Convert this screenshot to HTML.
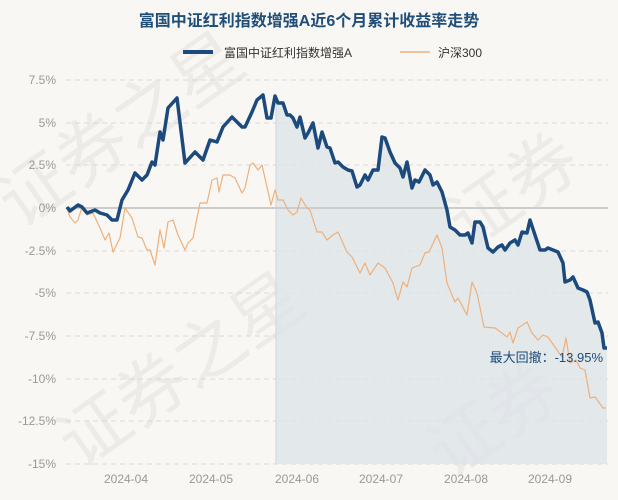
<!DOCTYPE html>
<html><head><meta charset="utf-8"><style>
body{margin:0;background:#f9f7f4;}
svg{display:block;font-family:"Liberation Sans","Noto Sans CJK SC",sans-serif;}
</style></head><body>
<svg width="618" height="500" viewBox="0 0 618 500">
<rect width="618" height="500" fill="#f9f7f4"/>
<g fill="#e9e6e2" font-size="70" font-family="Noto Sans CJK SC, sans-serif" opacity="0.7">
<text transform="translate(20,230) rotate(-35)">证券之星</text>
<text transform="translate(80,470) rotate(-35)">证券之星</text>
<text transform="translate(470,250) rotate(-35)">证券</text>
<text transform="translate(450,480) rotate(-35)">证券</text>
</g>
<text x="309" y="26" text-anchor="middle" font-size="16" font-weight="bold" fill="#1f4e79">富国中证红利指数增强A近6个月累计收益率走势</text>
<line x1="183" y1="52" x2="213" y2="52" stroke="#1c4a7c" stroke-width="4"/>
<text x="224" y="57" font-size="12" fill="#333">富国中证红利指数增强A</text>
<line x1="400" y1="52" x2="430" y2="52" stroke="#efb07a" stroke-width="1.5"/>
<text x="438" y="57" font-size="12" fill="#333">沪深300</text>
<g stroke="#d9d9d9" stroke-dasharray="5,4" stroke-width="1">
<line x1="66" y1="80" x2="608" y2="80"/><line x1="66" y1="123" x2="608" y2="123"/><line x1="66" y1="165" x2="608" y2="165"/>
<line x1="66" y1="251" x2="608" y2="251"/><line x1="66" y1="293" x2="608" y2="293"/><line x1="66" y1="336" x2="608" y2="336"/>
<line x1="66" y1="379" x2="608" y2="379"/><line x1="66" y1="421" x2="608" y2="421"/><line x1="66" y1="464" x2="608" y2="464"/>
</g>
<g font-size="12" fill="#999" text-anchor="end">
<text x="56" y="84">7.5%</text><text x="56" y="127">5%</text><text x="56" y="169">2.5%</text><text x="56" y="212">0%</text>
<text x="56" y="255">-2.5%</text><text x="56" y="297">-5%</text><text x="56" y="340">-7.5%</text><text x="56" y="383">-10%</text>
<text x="56" y="425">-12.5%</text><text x="56" y="468">-15%</text>
</g>
<g font-size="12" fill="#999" text-anchor="middle">
<text x="126" y="483">2024-04</text><text x="211" y="483">2024-05</text><text x="297" y="483">2024-06</text>
<text x="381" y="483">2024-07</text><text x="466" y="483">2024-08</text><text x="550" y="483">2024-09</text>
</g>
<polygon fill="#dde3e8" opacity="0.8" points="276,464 276,96 278,103 283,103 287,115 290,115 293,118 297,127 300,117 305,138 308,133 313,123 318,148 322,132 327,147 330,148 335,163 338,162 343,167 348,170 352,171 357,187 360,185 365,175 368,180 373,170 378,170 382,137 385,138 390,152 395,163 400,168 403,177 407,162 412,188 415,180 419,182 425,170 430,175 433,185 437,182 442,192 447,210 450,227 455,230 460,235 465,235 468,233 472,243 475,222 480,222 483,227 488,248 493,252 498,247 502,245 505,250 510,243 515,240 518,245 522,232 527,233 530,220 535,235 540,250 545,250 548,248 553,250 558,252 563,263 565,282 570,280 573,277 578,288 583,290 587,292 590,300 595,323 598,322 602,333 604,348 607,348 607,464"/>
<line x1="276" y1="96" x2="276" y2="464" stroke="#d0d6dc" stroke-width="1"/>
<line x1="66" y1="208" x2="608" y2="208" stroke="#cccccc" stroke-width="2"/>
<polyline fill="none" stroke="#efb07a" stroke-width="1.2" stroke-linejoin="round" points="67,208 70,217 75,223 78,220 82,207 87,215 93,213 100,228 105,240 109,233 113,252 120,238 125,208 132,218 138,237 142,238 147,250 150,250 155,265 160,230 164,248 168,222 173,220 178,235 185,250 188,243 193,238 200,203 207,203 212,180 217,178 219,192 223,175 230,175 235,178 242,193 245,188 250,165 253,163 258,170 262,165 271,205 275,190 278,200 283,200 288,210 293,215 297,212 301,198 307,208 310,210 317,232 322,232 327,240 333,235 338,232 347,252 352,257 360,273 365,263 370,275 378,263 385,268 393,283 398,300 403,282 407,287 412,268 420,265 425,253 429,252 437,235 442,248 447,283 455,302 458,298 467,315 472,282 477,293 484,327 495,328 502,333 507,337 510,332 513,343 518,328 527,322 532,333 538,340 543,335 548,337 557,350 562,357 566,338 570,363 576,360 580,368 585,370 590,398 595,397 603,408 606,408"/>
<polyline fill="none" stroke="#1c4a7c" stroke-width="3.5" stroke-linejoin="round" points="67,207 70,211 78,205 82,207 87,213 95,210 100,213 107,215 112,220 117,220 122,200 128,190 135,173 142,180 147,175 152,162 155,165 160,132 163,140 168,108 177,98 185,163 195,152 203,160 210,140 217,142 223,127 232,117 242,127 245,127 252,112 257,100 263,95 267,118 271,118 275,96 278,103 283,103 287,115 290,115 293,118 297,127 300,117 305,138 308,133 313,123 318,148 322,132 327,147 330,148 335,163 338,162 343,167 348,170 352,171 357,187 360,185 365,175 368,180 373,170 378,170 382,137 385,138 390,152 395,163 400,168 403,177 407,162 412,188 415,180 419,182 425,170 430,175 433,185 437,182 442,192 447,210 450,227 455,230 460,235 465,235 468,233 472,243 475,222 480,222 483,227 488,248 493,252 498,247 502,245 505,250 510,243 515,240 518,245 522,232 527,233 530,220 535,235 540,250 545,250 548,248 553,250 558,252 563,263 565,282 570,280 573,277 578,288 583,290 587,292 590,300 595,323 598,322 602,333 604,348 607,348"/>
<text x="603" y="362" text-anchor="end" font-size="13" fill="#1d4a7a">最大回撤：-13.95%</text>
</svg>
</body></html>
